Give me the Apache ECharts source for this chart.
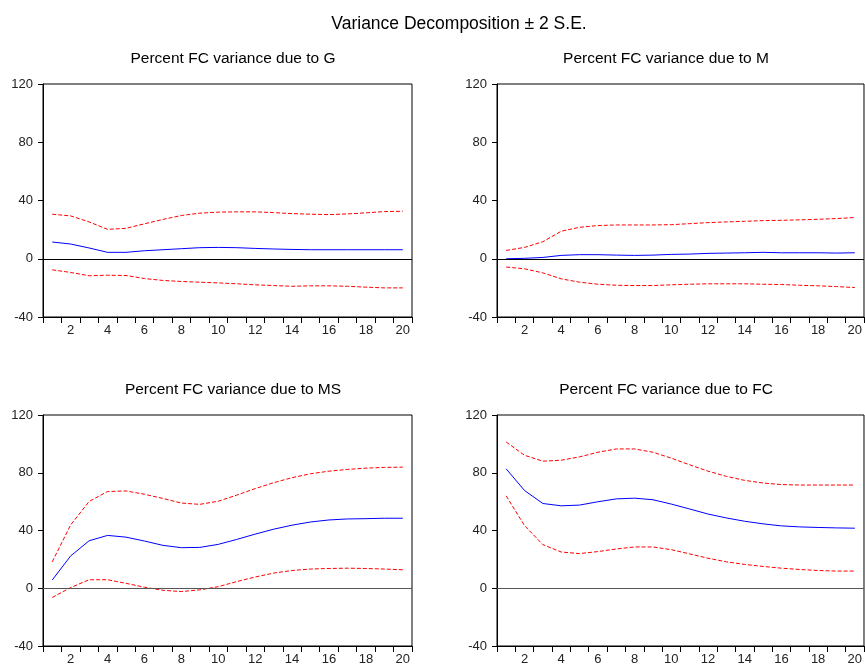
<!DOCTYPE html>
<html>
<head>
<meta charset="utf-8">
<script src="https://cdn.jsdelivr.net/npm/echarts@6/dist/echarts.min.js"></script>
<style>
  html, body { margin: 0; padding: 0; background: #fff; }
  #chart { width: 865px; height: 666px; }
</style>
</head>
<body>
<div id="chart"></div>
<script>
// periods 1..20
const periods = ['1','2','3','4','5','6','7','8','9','10','11','12','13','14','15','16','17','18','19','20'];
const yTicks = [-40, 0, 40, 80, 120];

// Percent FC variance due to G
const gMid = [11.5, 10.1, 7.4, 4.4, 4.4, 5.5, 6.2, 6.9, 7.6, 7.8, 7.6, 7.1, 6.7, 6.4, 6.2, 6.2, 6.2, 6.2, 6.2, 6.2];
const gUp  = [30.6, 29.4, 25.3, 20.2, 20.9, 24, 27, 29.7, 31.3, 32, 32.2, 32.2, 31.7, 31, 30.6, 30.3, 30.8, 31.5, 32.4, 32.6];
const gLo  = [-7.6, -9.4, -11.7, -11.3, -11.5, -13.6, -14.9, -15.6, -16.1, -16.6, -17.2, -17.9, -18.4, -18.9, -18.6, -18.6, -18.9, -19.5, -20, -20];

// Percent FC variance due to M
const mMid = [0, 0.3, 0.9, 2.3, 2.8, 2.8, 2.5, 2.3, 2.5, 3, 3.2, 3.7, 3.9, 4.1, 4.4, 4.1, 4.1, 4.1, 3.9, 4.1];
const mUp  = [5.7, 7.8, 11.7, 18.9, 21.6, 22.8, 23.2, 23.2, 23.2, 23.4, 24.1, 24.8, 25.3, 25.7, 26.2, 26.4, 26.7, 27.1, 27.6, 28.3];
const mLo  = [-5.7, -6.9, -9.7, -13.8, -16.1, -17.5, -18.2, -18.4, -18.4, -17.9, -17.5, -17.2, -17.2, -17.2, -17.5, -17.7, -18.2, -18.6, -19.1, -19.8];

// Percent FC variance due to MS
const msMid = [5.7, 22.4, 32.9, 36.6, 35.4, 32.7, 29.7, 28.1, 28.3, 30.4, 33.8, 37.5, 40.9, 43.7, 45.9, 47.3, 48, 48.2, 48.5, 48.5];
const msUp  = [18.3, 43.9, 60.1, 67, 67.4, 65.1, 62.2, 59, 58.1, 60.3, 64.5, 69, 73.1, 76.6, 79.3, 81.1, 82.3, 83.2, 83.7, 83.9];
const msLo  = [-6.4, 0.5, 5.9, 5.9, 3.4, 0.7, -1.4, -2.3, -1.1, 1.1, 4.6, 7.8, 10.5, 12.3, 13.3, 13.7, 13.9, 13.7, 13.3, 12.8];

// Percent FC variance due to FC
const fcMid = [82.7, 67.7, 58.7, 57.1, 57.6, 59.9, 61.9, 62.4, 61.3, 58.3, 54.9, 51.4, 48.7, 46.4, 44.6, 43.2, 42.5, 42.1, 41.8, 41.6];
const fcUp  = [101.3, 92.1, 88, 88.7, 91, 94.2, 96.5, 96.5, 94.2, 90.1, 85.5, 81.1, 77.5, 74.7, 72.9, 71.8, 71.5, 71.5, 71.5, 71.5];
const fcLo  = [64, 43.4, 30.2, 25.1, 24, 25.4, 27.2, 28.6, 28.6, 26.7, 23.8, 20.8, 18.3, 16.5, 15.1, 13.9, 13, 12.3, 11.9, 11.9];

const panels = [
  { title: 'Percent FC variance due to G',  mid: gMid,  up: gUp,  lo: gLo,  left: 43,  top: 84,  tx: 228, ty: 46,  zero: '#000' },
  { title: 'Percent FC variance due to M',  mid: mMid,  up: mUp,  lo: mLo,  left: 497, top: 84,  tx: 661, ty: 46,  zero: '#000' },
  { title: 'Percent FC variance due to MS', mid: msMid, up: msUp, lo: msLo, left: 43,  top: 415, tx: 228, ty: 377, zero: '#555' },
  { title: 'Percent FC variance due to FC', mid: fcMid, up: fcUp, lo: fcLo, left: 497, top: 415, tx: 661, ty: 377, zero: '#555' }
];

const font = 'Liberation Sans, Arial, sans-serif';
const titles = [{
  text: 'Variance Decomposition \u00b1 2 S.E.',
  left: 454, top: 10, textAlign: 'center',
  textStyle: { fontFamily: font, fontSize: 17.5, fontWeight: 'normal', color: '#000' }
}];
const grids = [], xAxes = [], yAxes = [], series = [];

panels.forEach((p, i) => {
  titles.push({
    text: p.title, left: p.tx, top: p.ty, textAlign: 'center',
    textStyle: { fontFamily: font, fontSize: 15.5, fontWeight: 'normal', color: '#000' }
  });
  grids.push({ left: p.left, top: p.top, width: 369, height: 233, show: true, borderColor: '#000', borderWidth: 1 });
  xAxes.push({
    type: 'category', gridIndex: i, data: periods, boundaryGap: true,
    axisLine: { onZero: false, lineStyle: { color: '#000' } },
    axisTick: { show: true, interval: 0, length: 6, lineStyle: { color: '#000' } },
    axisLabel: { interval: (idx) => idx % 2 === 1, fontFamily: font, fontSize: 13, color: '#222', margin: 7 },
    splitLine: { show: false }
  });
  yAxes.push({
    type: 'value', gridIndex: i, min: -40, max: 120, interval: 40,
    axisLine: { show: true, lineStyle: { color: '#000' } },
    axisTick: { show: true, length: 5, lineStyle: { color: '#000' } },
    axisLabel: { fontFamily: font, fontSize: 13, color: '#222', margin: 10 },
    splitLine: { show: false }
  });
  const red = { color: '#ff0000', width: 1, type: [4, 2] };
  series.push({
    type: 'line', xAxisIndex: i, yAxisIndex: i, data: p.mid, symbol: 'none',
    lineStyle: { color: '#0000ff', width: 1 }, z: 3,
    markLine: {
      silent: true, symbol: 'none', label: { show: false },
      lineStyle: { color: p.zero, type: 'solid', width: 1 },
      data: [{ yAxis: 0 }]
    }
  });
  series.push({ type: 'line', xAxisIndex: i, yAxisIndex: i, data: p.up, symbol: 'none', lineStyle: red });
  series.push({ type: 'line', xAxisIndex: i, yAxisIndex: i, data: p.lo, symbol: 'none', lineStyle: red });
});

const chart = echarts.init(document.getElementById('chart'), null, { renderer: 'canvas' });
chart.setOption({
  animation: false,
  backgroundColor: '#fff',
  title: titles,
  grid: grids,
  xAxis: xAxes,
  yAxis: yAxes,
  series: series
});
</script>
</body>
</html>
